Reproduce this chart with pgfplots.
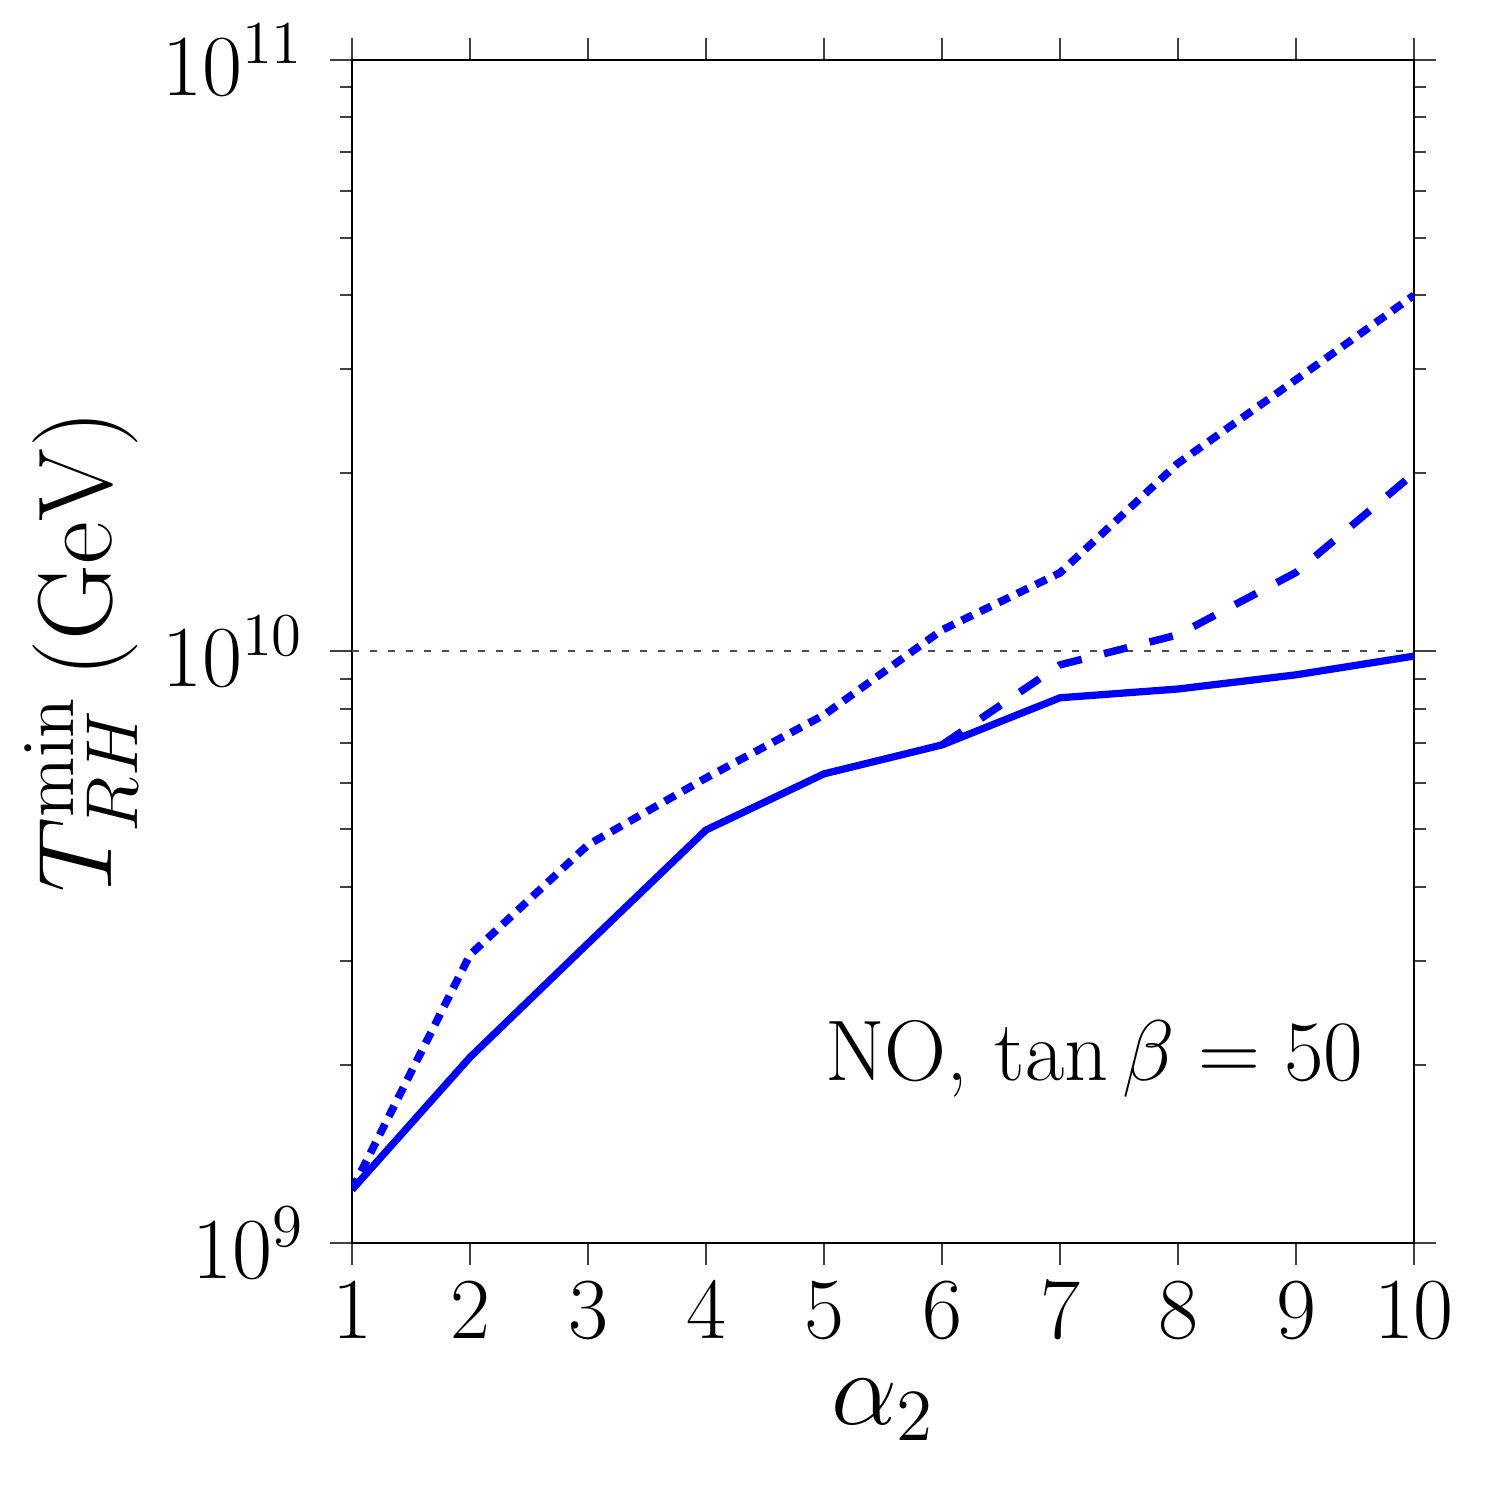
\RequirePackage{fix-cm}
\documentclass[border=0pt]{standalone}
\usepackage{pgfplots}
\pgfplotsset{compat=1.18}
\begin{document}
\begin{tikzpicture}
\begin{axis}[
  scale only axis,
  width=212.4pt, height=236.6pt,
  xmin=1, xmax=10,
  ymode=log, ymin=1e9, ymax=1e11,
  xtick={1,2,3,4,5,6,7,8,9,10},
  ytick={1e9,1e10,1e11},
  tick align=outside,
  major tick length=4.4pt,
  minor tick length=2.4pt,
  axis line style={line width=0.45pt},
  every tick/.style={line width=0.4pt, black!75},
  ticklabel style={font=\fontsize{17.4}{20}\selectfont},
  yticklabel style={xshift=-1.6pt},
  xlabel={$\alpha_2$},
  ylabel={$T_{RH}^{\rm min}\,(\mathrm{GeV})$},
  label style={font=\fontsize{21}{25}\selectfont},
  xlabel style={at={(axis description cs:0.5,-0.141)}, anchor=center},
  ylabel style={at={(axis description cs:-0.255,0.5)}, anchor=center, rotate=0},
  clip=true,
]
\addplot[black!70, line width=0.4pt, dash pattern=on 1.4pt off 2.2pt, forget plot] coordinates {(1,1e10) (10,1e10)};
\addplot[blue, line width=1.55pt, dash pattern=on 2.4pt off 1.7pt] coordinates {
(1,1.23e9) (2,3.07e9) (3,4.71e9) (4,6.11e9) (5,7.81e9) (6,1.087e10) (7,1.358e10) (8,2.08e10) (9,2.88e10) (10,4.0e10)};
\addplot[blue, line width=1.5pt, dash pattern=on 4.8pt off 4.6pt] coordinates {
(6,6.95e9) (7,9.49e9) (8,1.067e10) (9,1.36e10) (10,2.0e10)};
\addplot[blue, line width=1.45pt] coordinates {
(1,1.23e9) (2,2.06e9) (3,3.21e9) (4,4.99e9) (5,6.21e9) (6,6.95e9) (7,8.35e9) (8,8.64e9) (9,9.13e9) (10,9.82e9)};
\node[font=\fontsize{17.2}{20}\selectfont, anchor=center] at (axis cs:7.29,2.05e9) {NO, $\tan\beta=50$};
\end{axis}
\pgfresetboundingbox
\path (current axis.south west) ++(-70.4pt,-51.4pt) rectangle ++(300pt,300pt);
\end{tikzpicture}
\end{document}
